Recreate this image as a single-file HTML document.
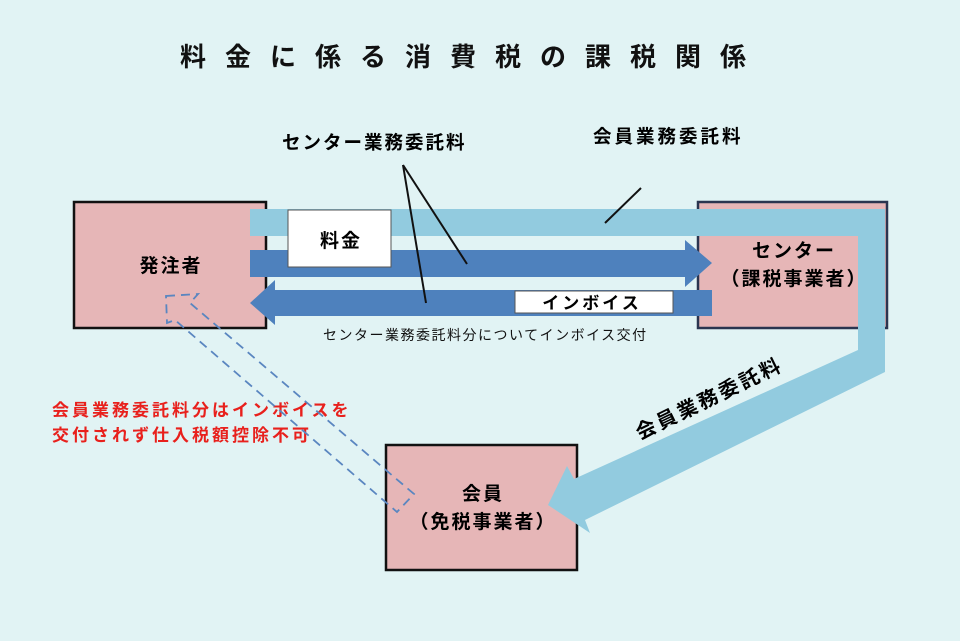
<!DOCTYPE html>
<html><head><meta charset="utf-8"><style>
body{margin:0;background:#e1f3f4;}
svg{display:block}
text{font-family:"Liberation Sans","Noto Sans CJK JP",sans-serif;font-weight:bold;}
</style></head><body>
<svg width="960" height="641" viewBox="0 0 960 641">
<rect width="960" height="641" fill="#e1f3f4"/>
<text x="180" y="66" font-size="26" letter-spacing="19" fill="#111">料金に係る消費税の課税関係</text>
<!-- boxes -->
<rect x="74" y="202" width="192" height="126" fill="#e6b6b7" stroke="#111" stroke-width="2.5"/>
<rect x="698" y="202" width="189" height="126" fill="#e6b6b7" stroke="#2a3550" stroke-width="2.5"/>
<rect x="386" y="445" width="191" height="125" fill="#e6b6b7" stroke="#111" stroke-width="2.5"/>
<!-- light blue path -->
<polygon points="250,209 885,209 885,372 585,520 590,533 548,505 567,466 574,479 858,350 858,236 250,236" fill="#92cbdf"/>
<!-- dark arrows -->
<polygon points="250,250 685,250 685,240 712,263 685,287 685,277 250,277" fill="#4e81bd"/>
<polygon points="712,290 275,290 275,280 250,303 275,325 275,316 712,316" fill="#4e81bd"/>
<!-- label boxes -->
<rect x="288" y="210" width="103" height="57" fill="#fff" stroke="#555" stroke-width="1"/>
<text x="341" y="247" font-size="19" letter-spacing="2" text-anchor="middle">料金</text>
<rect x="515" y="291" width="158" height="22" fill="#fff" stroke="#555" stroke-width="1"/>
<text x="592" y="309" font-size="17" letter-spacing="3" text-anchor="middle">インボイス</text>
<!-- node labels -->
<text x="171" y="272" font-size="19" letter-spacing="2" text-anchor="middle">発注者</text>
<text x="794" y="257" font-size="19" letter-spacing="2" text-anchor="middle">センター</text>
<text x="794" y="285" font-size="19" letter-spacing="2" text-anchor="middle">（課税事業者）</text>
<text x="483" y="500" font-size="19" letter-spacing="2" text-anchor="middle">会員</text>
<text x="483" y="528" font-size="19" letter-spacing="2" text-anchor="middle">（免税事業者）</text>
<!-- callouts -->
<text x="282" y="149" font-size="18.5" letter-spacing="2">センター業務委託料</text>
<text x="593" y="143" font-size="18.5" letter-spacing="3">会員業務委託料</text>
<line x1="403" y1="165" x2="467" y2="264" stroke="#111" stroke-width="2"/>
<line x1="403" y1="165" x2="426" y2="303" stroke="#111" stroke-width="2"/>
<line x1="641" y1="188" x2="605" y2="223" stroke="#111" stroke-width="2"/>
<text x="323" y="340" font-size="14" letter-spacing="1.5" style="font-weight:normal" fill="#111">センター業務委託料分についてインボイス交付</text>
<text transform="translate(640,440) rotate(-26)" font-size="20" letter-spacing="3">会員業務委託料</text>
<!-- red text -->
<text x="52" y="416" font-size="17" letter-spacing="3" fill="#e8201c">会員業務委託料分はインボイスを</text>
<text x="52" y="441" font-size="17" letter-spacing="3" fill="#e8201c">交付されず仕入税額控除不可</text>
<!-- dashed -->
<polygon points="166,296 198,294 190,303 414,494 397,512 175,320 167,323" fill="none" stroke="#5a86c0" stroke-width="1.8" stroke-dasharray="9,6"/>
</svg>
</body></html>
